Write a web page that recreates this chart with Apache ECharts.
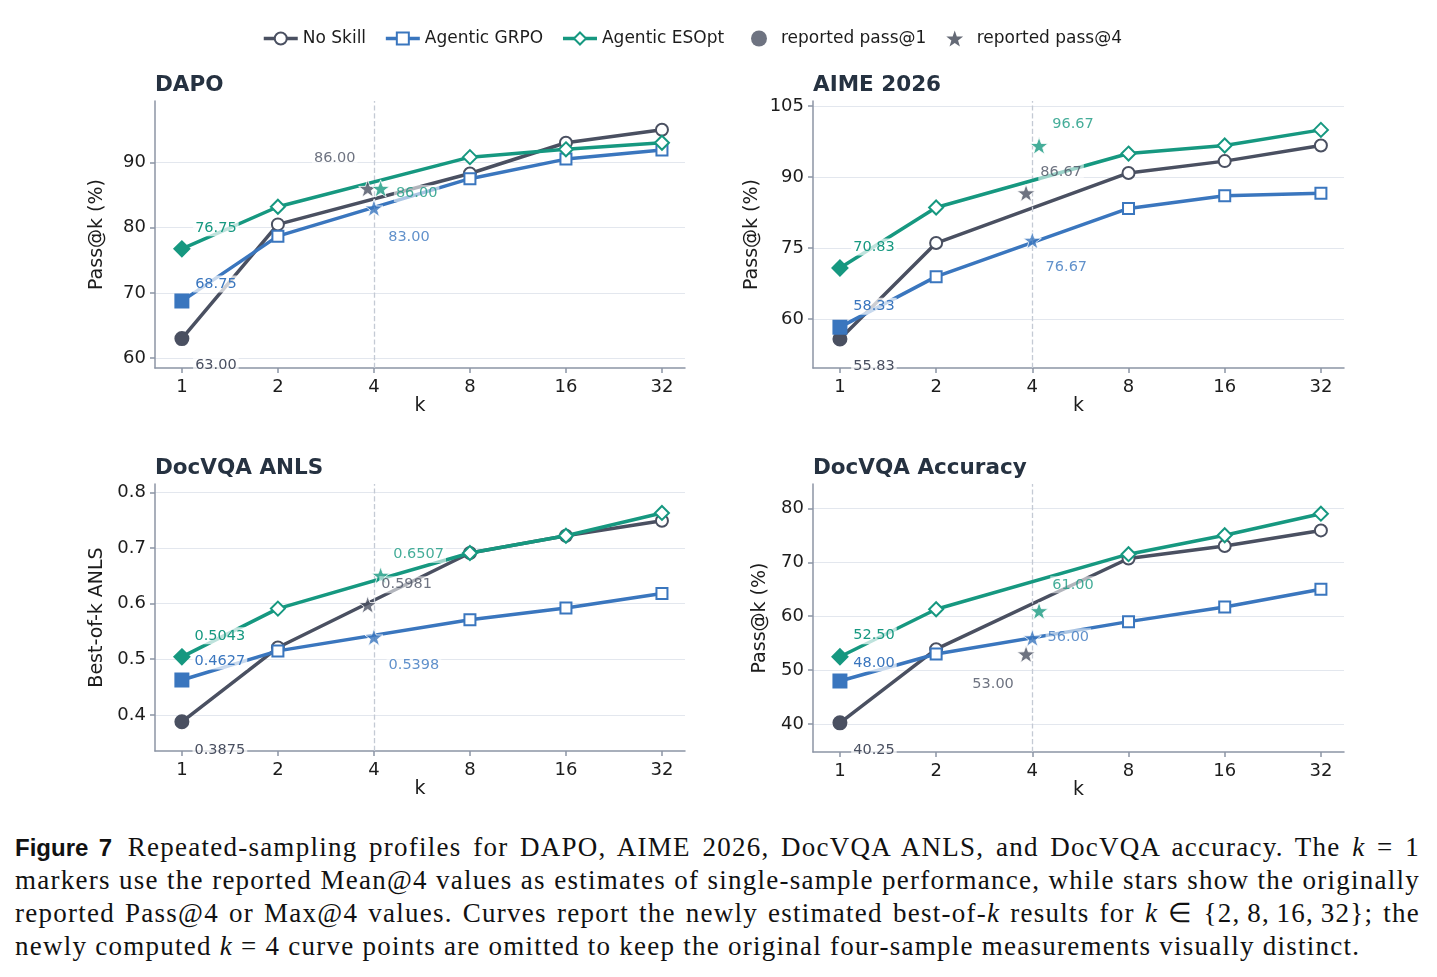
<!DOCTYPE html>
<html>
<head>
<meta charset="utf-8">
<script src="https://cdn.jsdelivr.net/npm/echarts@6/dist/echarts.min.js"></script>
<style>
html, body { margin: 0; padding: 0; background: #fff; }
#chart { width: 1437px; height: 820px; }
#caption {
    position: absolute; left: 15px; top: 831px; width: 1405px;
    font-family: "Liberation Serif", serif; font-size: 27px; line-height: 33px; color: #111;
    letter-spacing: 1.25px;
}
#caption div { text-align: justify; text-align-last: justify; white-space: nowrap; }
#caption div.last { text-align: left; text-align-last: left; }
#caption b { font-family: "Liberation Sans", sans-serif; font-weight: bold; font-size: 24px; letter-spacing: 0; margin-right: 4px; }
</style>
</head>
<body>
<div id="chart"></div>
<div id="caption">
    <div><b>Figure 7</b> Repeated-sampling profiles for DAPO, AIME 2026, DocVQA ANLS, and DocVQA accuracy. The <i>k</i> = 1</div>
    <div>markers use the reported Mean@4 values as estimates of single-sample performance, while stars show the originally</div>
    <div>reported Pass@4 or Max@4 values. Curves report the newly estimated best-of-<i>k</i> results for <i>k</i> &isin; {2,&thinsp;8,&thinsp;16,&thinsp;32}; the</div>
    <div class="last">newly computed <i>k</i> = 4 curve points are omitted to keep the original four-sample measurements visually distinct.</div>
</div>
<script>
// k values shown on the x axis, and the ones the curves are drawn at
var kTicks = [1, 2, 4, 8, 16, 32];
var curveK = [1, 2, 8, 16, 32];

// values at k = 1, 2, 8, 16, 32 (k=1 is the reported Mean@4)
var dapoNoSkill = [63.00, 80.5, 88.3, 93.0, 95.0];
var dapoGrpo    = [68.75, 78.7, 87.5, 90.5, 91.9];
var dapoEsopt   = [76.75, 83.2, 90.8, 92.0, 93.0];
var dapoPass4   = [86.00, 83.00, 86.00];   // no skill, grpo, esopt

var aimeNoSkill = [55.83, 76.1, 90.9, 93.4, 96.7];
var aimeGrpo    = [58.33, 69.0, 83.4, 86.1, 86.6];
var aimeEsopt   = [70.83, 83.6, 95.0, 96.7, 100.0];
var aimePass4   = [86.67, 76.67, 96.67];

var anlsNoSkill = [0.3875, 0.521, 0.691, 0.722, 0.749];
var anlsGrpo    = [0.4627, 0.515, 0.571, 0.592, 0.618];
var anlsEsopt   = [0.5043, 0.591, 0.691, 0.722, 0.763];
var anlsPass4   = [0.5981, 0.5398, 0.6507];

var accNoSkill = [40.25, 53.9, 70.7, 73.0, 75.9];
var accGrpo    = [48.00, 53.0, 59.0, 61.7, 65.0];
var accEsopt   = [52.50, 61.3, 71.5, 75.0, 79.0];
var accPass4   = [53.00, 56.00, 61.00];

var dapoTicks = [60, 70, 80, 90];
var aimeTicks = [60, 75, 90, 105];
var anlsTicks = [0.4, 0.5, 0.6, 0.7, 0.8];
var accTicks  = [40, 50, 60, 70, 80];

var seriesNames = ['No Skill', 'Agentic GRPO', 'Agentic ESOpt'];
var colors = ['#4a5061', '#3a76be', '#169880'];
var openSymbols = ['circle', 'rect', 'diamond'];
var openSizes = [12, 11, 14];
var fullSizes = [13, 13, 15];
var STAR = 'path://M0,-10L2.35,-3.24L9.51,-3.09L3.8,1.24L5.88,8.09L0,4L-5.88,8.09L-3.8,1.24L-9.51,-3.09L-2.35,-3.24Z';
var starShift = [-0.065, 0, 0.07];   // small sideways nudge so the stars don't sit on each other
var FONT = 'DejaVu Sans';

var panels = [
    { title: 'DAPO', yName: 'Pass@k (%)', nameGap: 48, min: 58.5, max: 99.4, ticks: dapoTicks, digits: 2,
      grid: { left: 155, top: 101, width: 530, height: 267 },
      curves: [dapoNoSkill, dapoGrpo, dapoEsopt], pass4: dapoPass4,
      firstOff: [[34, 27], [34, -17], [34, -21]], starOff: [[-33, -30], [35, 29], [36, 5]] },
    { title: 'AIME 2026', yName: 'Pass@k (%)', nameGap: 51, min: 49.7, max: 106.1, ticks: aimeTicks, digits: 2,
      grid: { left: 813, top: 101, width: 531, height: 267 },
      curves: [aimeNoSkill, aimeGrpo, aimeEsopt], pass4: aimePass4,
      firstOff: [[34, 27], [34, -21], [34, -21]], starOff: [[35, -21], [34, 27], [34, -21]] },
    { title: 'DocVQA ANLS', yName: 'Best-of-k ANLS', nameGap: 48, min: 0.335, max: 0.815, ticks: anlsTicks, digits: 4,
      grid: { left: 155, top: 484, width: 530, height: 267 },
      curves: [anlsNoSkill, anlsGrpo, anlsEsopt], pass4: anlsPass4,
      firstOff: [[38, 28], [38, -19], [38, -21]], starOff: [[39, -20], [40, 28], [38, -21]] },
    { title: 'DocVQA Accuracy', yName: 'Pass@k (%)', nameGap: 43, min: 34.85, max: 84.5, ticks: accTicks, digits: 2,
      grid: { left: 813, top: 484, width: 531, height: 268 },
      curves: [accNoSkill, accGrpo, accEsopt], pass4: accPass4,
      firstOff: [[34, 27], [34, -18], [34, -21]], starOff: [[-33, 30], [36, -1], [34, -26]] }
];

function valueLabel(color, offset, text) {
    return {
        show: true, position: 'inside', offset: offset,
        formatter: text, color: color, fontFamily: FONT, fontSize: 14.5,
        backgroundColor: 'rgba(255,255,255,0.72)', padding: [1, 2]
    };
}

var nameText = { fontFamily: FONT, fontSize: 19, color: '#1c1c1c' };
var axisLineStyle = { color: '#8c95a5', width: 1.5 };
var legendText = { fontFamily: FONT, fontSize: 17, color: '#1c1c1c' };

var option = {
    animation: false,
    backgroundColor: '#fff',
    title: [],
    grid: [],
    xAxis: [],
    yAxis: [],
    legend: [{
        top: 25, left: 257,
        itemWidth: 34, itemHeight: 15, itemGap: 18,
        lineStyle: { width: 3.5 },
        textStyle: legendText,
        data: ['No Skill', 'Agentic GRPO', 'Agentic ESOpt']
    }, {
        top: 25, left: 746,
        itemWidth: 34, itemHeight: 16, itemGap: 20,
        textStyle: legendText,
        data: [{ name: 'reported pass@1', icon: 'circle' },
               { name: 'reported pass@4', icon: STAR, itemStyle: { borderWidth: 0, color: '#3f4554' } }]
    }],
    series: []
};

var xTickPos = kTicks.map(function(k) { return Math.log2(k); });

panels.forEach(function(p, i) {
    option.title.push({
        text: p.title, left: p.grid.left, top: p.grid.top - 27, padding: 0,
        textStyle: { fontFamily: FONT, fontSize: 21.5, fontWeight: 'bold', color: '#263241' }
    });
    option.grid.push(p.grid);

    option.xAxis.push({
        gridIndex: i, type: 'value', min: -0.28, max: 5.24,
        name: 'k', nameLocation: 'middle', nameGap: 28, nameTextStyle: nameText,
        axisLine: { show: true, onZero: false, lineStyle: axisLineStyle },
        axisTick: { show: true, length: 5, lineStyle: axisLineStyle, customValues: xTickPos },
        axisLabel: {
            customValues: xTickPos, margin: 10, fontFamily: FONT, fontSize: 18, color: '#1c1c1c',
            formatter: function(v) { return String(kTicks[Math.round(v)]); }
        },
        splitLine: { show: false }
    });

    option.yAxis.push({
        gridIndex: i, type: 'value', min: p.min, max: p.max,
        name: p.yName, nameLocation: 'middle', nameGap: p.nameGap, nameTextStyle: nameText,
        axisLine: { show: true, onZero: false, lineStyle: axisLineStyle },
        axisTick: { show: true, length: 5, lineStyle: axisLineStyle, customValues: p.ticks },
        axisLabel: {
            customValues: p.ticks, margin: 9, fontFamily: FONT, fontSize: 18, color: '#1c1c1c',
            formatter: function(v) { return p.digits === 4 ? v.toFixed(1) : String(Math.round(v)); }
        },
        splitLine: { show: true, lineStyle: { color: '#e3e7ee', width: 1.2 } }
    });

    p.curves.forEach(function(vals, s) {
        var c = colors[s];
        var data = vals.map(function(v, j) {
            if (j === 0) {
                return {
                    value: [0, v], symbolSize: fullSizes[s],
                    itemStyle: { color: c, borderColor: c },
                    label: valueLabel(c, p.firstOff[s], v.toFixed(p.digits))
                };
            }
            return [Math.log2(curveK[j]), v];
        });
        var ser = {
            name: seriesNames[s], type: 'line', xAxisIndex: i, yAxisIndex: i,
            symbol: openSymbols[s], symbolSize: openSizes[s], showAllSymbol: true,
            lineStyle: { color: c, width: 3.5 },
            itemStyle: { color: '#fff', borderColor: c, borderWidth: 2 },
            label: { show: false },
            z: 3 + s,
            data: data
        };
        if (s === 0) {
            ser.markLine = {
                silent: true, symbol: 'none', label: { show: false },
                lineStyle: { type: 'dashed', color: '#c4cad4', width: 1.3 },
                data: [{ xAxis: Math.log2(4) }]
            };
        }
        option.series.push(ser);
    });

    option.series.push({
        name: 'reported pass@4', type: 'scatter', xAxisIndex: i, yAxisIndex: i,
        symbol: STAR, symbolKeepAspect: true, symbolSize: 18,
        itemStyle: { color: colors[0], borderColor: '#fff', borderWidth: 1 },
        z: 10,
        data: p.pass4.map(function(v, s) {
            return {
                value: [Math.log2(4) + starShift[s], v],
                itemStyle: { color: colors[s], borderColor: '#fff', borderWidth: 1 },
                label: valueLabel(colors[s], p.starOff[s], v.toFixed(p.digits))
            };
        })
    });
});

// legend-only entry for the filled k=1 markers
option.series.push({
    name: 'reported pass@1', type: 'scatter', xAxisIndex: 0, yAxisIndex: 0,
    symbol: 'circle', itemStyle: { color: colors[0] }, data: []
});

var chart = echarts.init(document.getElementById('chart'));
chart.setOption(option);
</script>
</body>
</html>
